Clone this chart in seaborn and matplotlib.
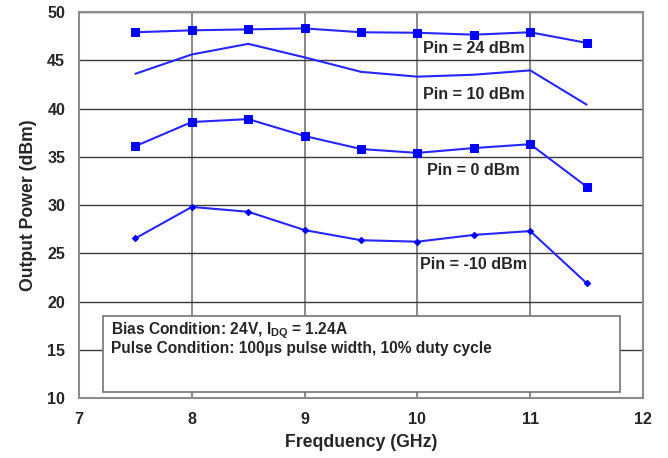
"""Output power vs frequency."""
import numpy as np
import pandas as pd
import matplotlib
matplotlib.use("Agg")
import matplotlib.pyplot as plt
from matplotlib.patches import Rectangle
import seaborn as sns

freq = [7.5, 8.0, 8.5, 9.0, 9.5, 10.0, 10.5, 11.0, 11.5]
pout_24 = [47.9, 48.1, 48.2, 48.3, 47.9, 47.85, 47.65, 47.9, 46.8]
pout_10 = [43.6, 45.6, 46.7, 45.3, 43.8, 43.3, 43.5, 43.95, 40.4]
pout_0 = [36.1, 38.6, 38.9, 37.15, 35.8, 35.4, 35.9, 36.3, 31.9]
pout_m10 = [26.55, 29.8, 29.3, 27.4, 26.35, 26.2, 26.9, 27.3, 21.9]

pin_labels = ["Pin = 24 dBm", "Pin = 10 dBm", "Pin = 0 dBm", "Pin = -10 dBm"]
label_y = [46.2, 41.5, 33.6, 23.8]

sns.set_style("white")
plt.rcParams["font.family"] = ["Liberation Sans", "DejaVu Sans"]
plt.rcParams["font.weight"] = "bold"
plt.rcParams["mathtext.fontset"] = "custom"
plt.rcParams["mathtext.rm"] = "Liberation Sans:bold"

df = pd.DataFrame({
    "freq": freq * 4,
    "pout": pout_24 + pout_10 + pout_0 + pout_m10,
    "pin": np.repeat(pin_labels, len(freq)),
})

fig = plt.figure(figsize=(6.68, 4.58), dpi=100)
ax = fig.add_axes([0.1183, 0.131, 0.8443, 0.8428])

blue = "#2626ff"
styles = {
    pin_labels[0]: dict(marker="s", markersize=5.2),
    pin_labels[1]: dict(marker=None),
    pin_labels[2]: dict(marker="s", markersize=5.2),
    pin_labels[3]: dict(marker="D", markersize=3.2),
}
for lab in pin_labels:
    sub = df[df["pin"] == lab]
    sns.lineplot(data=sub, x="freq", y="pout", ax=ax, color=blue, lw=1.5,
                 markeredgecolor="#0000ff", markerfacecolor="#0000ff",
                 zorder=4, **styles[lab])

for lab, y in zip(pin_labels, label_y):
    ax.text(10.5, y, lab, ha="center", va="center", fontsize=11.6,
            fontweight="bold", zorder=5)

ax.set_xlim(7, 12)
ax.set_ylim(10, 50)
ax.set_xticks(range(7, 13))
ax.set_yticks(range(10, 51, 5))
ax.grid(True, axis="y", color="#3a3a3a", lw=1)
ax.grid(True, axis="x", color="#6a6a6a", lw=1.1)
ax.set_axisbelow(True)
for s in ax.spines.values():
    s.set_color("#8c8c8c")
    s.set_linewidth(1.5)
ax.tick_params(length=0, labelsize=11.6, pad=10)
for t in ax.get_xticklabels() + ax.get_yticklabels():
    t.set_fontweight("bold")

box = Rectangle((7.213, 10.62), 11.80 - 7.213, 18.53 - 10.62,
                facecolor="white", edgecolor="#747474", lw=1.2, zorder=3)
ax.add_patch(box)
ax.text(7.284, 16.97, r"Bias Condition: 24V, $\mathrm{I_{DQ}}$ = 1.24A",
        ha="left", va="center", fontsize=11.2, fontweight="bold", zorder=5)
ax.text(7.284, 15.18, "Pulse Condition: 100\u00b5s pulse width, 10% duty cycle",
        ha="left", va="center", fontsize=11.2, fontweight="bold", zorder=5)

ax.set_xlabel("Freqduency (GHz)", fontsize=12.7, fontweight="bold", labelpad=5)
ax.set_ylabel("Output Power (dBm)", fontsize=12.7, fontweight="bold", labelpad=7)

fig.savefig("out.png", dpi=100)
